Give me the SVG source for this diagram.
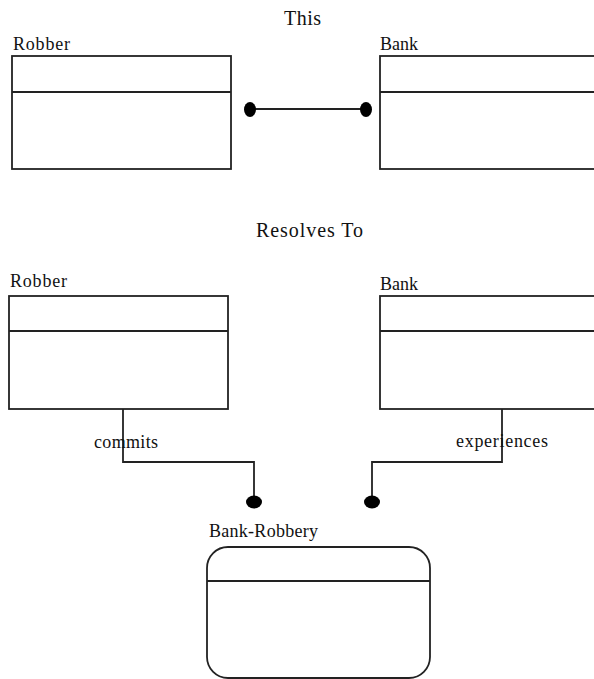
<svg xmlns="http://www.w3.org/2000/svg" width="594" height="679" viewBox="0 0 594 679">
<style>
.t{font-family:"Liberation Serif","Times New Roman",serif;font-size:18px;fill:#111}
.h{font-size:20px}
.b{fill:#fff;stroke:#222;stroke-width:1.8}
.d{stroke:#222;stroke-width:1.8}
.c{fill:none;stroke:#222;stroke-width:1.8}
.e{fill:#000}
</style>
<rect width="594" height="679" fill="#fff"/>
<text class="t h" x="284" y="25" textLength="37">This</text>
<text class="t h" x="256" y="237" textLength="107">Resolves To</text>
<g id="robber1">
<text class="t" x="13" y="50" textLength="57">Robber</text>
<rect class="b" x="12" y="56" width="219" height="113"/>
<line class="d" x1="12" y1="92" x2="231" y2="92"/>
</g>
<g id="bank1">
<text class="t" x="380" y="50">Bank</text>
<rect class="b" x="380" y="56" width="240" height="113"/>
<line class="d" x1="380" y1="92" x2="620" y2="92"/>
</g>
<g id="robber2">
<text class="t" x="10" y="287" textLength="57">Robber</text>
<rect class="b" x="9" y="296" width="219" height="113"/>
<line class="d" x1="9" y1="331" x2="228" y2="331"/>
</g>
<g id="bank2">
<text class="t" x="380" y="290">Bank</text>
<rect class="b" x="380" y="296" width="240" height="113"/>
<line class="d" x1="380" y1="331" x2="620" y2="331"/>
</g>
<g id="bankrobbery">
<text class="t" x="209" y="537" textLength="109">Bank-Robbery</text>
<rect class="b" x="207" y="547" width="223" height="131" rx="21" ry="21"/>
<line class="d" x1="207" y1="581" x2="430" y2="581"/>
</g>
<g id="connectors">
<line class="d" x1="250" y1="109" x2="366" y2="109"/>
<ellipse class="e" cx="250" cy="109.5" rx="6" ry="7.5"/>
<ellipse class="e" cx="366" cy="109.5" rx="6" ry="7.5"/>
<polyline class="c" points="123,409 123,462 254,462 254,500"/>
<ellipse class="e" cx="254" cy="502" rx="8" ry="6.5"/>
<text class="t" x="94" y="448" textLength="64">commits</text>
<polyline class="c" points="502,409 502,462 372,462 372,500"/>
<ellipse class="e" cx="372" cy="502" rx="8" ry="6.5"/>
<text class="t" x="456" y="447" textLength="92">experiences</text>
</g>
</svg>
